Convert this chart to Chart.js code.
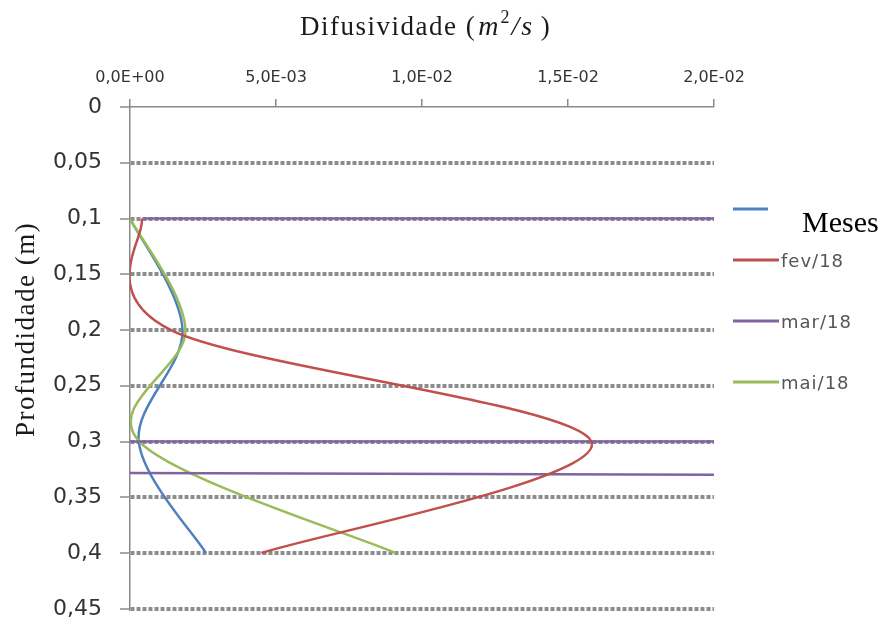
<!DOCTYPE html>
<html>
<head>
<meta charset="utf-8">
<script src="https://cdn.jsdelivr.net/npm/chart.js"></script>
<style>
  body { margin: 0; background: #fff; }
</style>
</head>
<body>
<canvas id="difusividade" width="888" height="640"></canvas>
<script>
// depth (m) of each reading
const depths = [0.1, 0.2, 0.3, 0.4];
// diffusivity (m2/s) per month
const mesesValues = [0, 0.0018, 0.0003, 0.0026];
const fevValues = [0.0004, 0.0014, 0.0158, 0.0045];
const maiValues = [0, 0.0019, 0.00032, 0.0091];
// mar/18 runs far off the axis, only the pieces crossing the plot are kept
const marDepths = [0.1, 0.1, null, 0.3, 0.3, null, 0.3275, 0.3305];
const marValues = [0.00045, 0.03, null, -0.01, 0.03, null, -0.01, 0.03];

const seriesLabels = ['Meses', 'fev/18', 'mar/18', 'mai/18'];
const seriesColors = ['#4f81bd', '#c0504d', '#8064a2', '#9bbb59'];
const xTickLabels = ['0,0E+00', '5,0E-03', '1,0E-02', '1,5E-02', '2,0E-02'];
const yTickLabels = ['0', '0,05', '0,1', '0,15', '0,2', '0,25', '0,3', '0,35', '0,4', '0,45'];
const yStep = 0.05;
const xStep = 0.005;

function toPoints(values, ys) {
    return values.map((v, i) => ({x: v, y: ys[i]}));
}

// excel style smoothing: catmull-rom control points (1/6 of neighbour span)
const excelSmooth = {
    id: 'excelSmooth',
    afterDatasetsUpdate(chart) {
        chart.getSortedVisibleDatasetMetas().forEach(meta => {
            const ds = chart.data.datasets[meta.index];
            if (!ds.smooth) return;
            const pts = meta.data;
            const n = pts.length;
            for (let i = 0; i < n; i++) {
                const p = pts[i];
                const prev = pts[Math.max(i - 1, 0)];
                const next = pts[Math.min(i + 1, n - 1)];
                const dx = (next.x - prev.x) / 6;
                const dy = (next.y - prev.y) / 6;
                p.cp1x = p.x - dx; p.cp1y = p.y - dy;
                p.cp2x = p.x + dx; p.cp2y = p.y + dy;
            }
            meta.dataset._pointsUpdated = true;
        });
    }
};

// titles + legend, drawn by hand so the fonts can be mixed
const textPlugin = {
    id: 'texts',
    afterDraw(chart) {
        const ctx = chart.ctx;
        ctx.save();
        ctx.fillStyle = '#1a1a1a';
        ctx.textBaseline = 'alphabetic';
        ctx.textAlign = 'left';

        // top title
        const parts = [
            ['Difusividade (', '27px "Liberation Serif"', 0, 1.5],
            ['m', 'italic 28px "Liberation Serif"', 0, 0],
            ['2', '18px "Liberation Serif"', -12, 0],
            ['/', 'italic 28px "Liberation Serif"', 0, 0],
            ['s', 'italic 28px "Liberation Serif"', 0, 0],
            [' )', '27px "Liberation Serif"', 0, 0]
        ];
        let x = 300;
        parts.forEach(p => {
            ctx.font = p[1];
            ctx.letterSpacing = p[3] + 'px';
            ctx.fillText(p[0], x, 35 + p[2]);
            x += ctx.measureText(p[0]).width + 2;
        });

        // side title
        ctx.save();
        ctx.translate(34, 437);
        ctx.rotate(-Math.PI / 2);
        ctx.font = '27px "Liberation Serif"';
        ctx.letterSpacing = '1.5px';
        ctx.fillText('Profundidade (m)', 0, 0);
        ctx.restore();

        // legend
        const rows = [209, 260, 321, 382];
        chart.data.datasets.forEach((ds, i) => {
            const y = rows[i];
            ctx.strokeStyle = ds.borderColor;
            ctx.lineWidth = 3;
            ctx.beginPath();
            ctx.moveTo(733, y);
            ctx.lineTo(i === 0 ? 768 : 779, y);
            ctx.stroke();
            if (i === 0) {
                ctx.fillStyle = '#000';
                ctx.font = '30px "Liberation Serif"';
                ctx.letterSpacing = '0px';
                ctx.fillText(ds.label, 802, y + 23);
            } else {
                ctx.fillStyle = '#555';
                ctx.font = '18px "DejaVu Sans"';
                ctx.letterSpacing = '1px';
                ctx.textBaseline = 'middle';
                ctx.fillText(ds.label, 781, y + 2);
                ctx.textBaseline = 'alphabetic';
            }
        });
        ctx.restore();
    }
};

const ctx = document.getElementById('difusividade');
const chart = new Chart(ctx, {
    type: 'line',
    data: {
        datasets: [{
            label: seriesLabels[0],
            data: toPoints(mesesValues, depths),
            borderColor: seriesColors[0],
            smooth: true,
            order: 3
        }, {
            label: seriesLabels[1],
            data: toPoints(fevValues, depths),
            borderColor: seriesColors[1],
            smooth: true,
            order: 0
        }, {
            label: seriesLabels[2],
            data: toPoints(marValues, marDepths),
            borderColor: seriesColors[2],
            tension: 0,
            order: 1
        }, {
            label: seriesLabels[3],
            data: toPoints(maiValues, depths),
            borderColor: seriesColors[3],
            smooth: true,
            order: 2
        }]
    },
    options: {
        responsive: false,
        animation: false,
        layout: {
            padding: {left: 0, right: 174, top: 0, bottom: 30}
        },
        elements: {
            line: {borderWidth: 2.5, tension: 0.5, fill: false},
            point: {radius: 0, hoverRadius: 0}
        },
        plugins: {
            legend: {display: false},
            tooltip: {enabled: false}
        },
        scales: {
            x: {
                type: 'linear',
                position: 'top',
                min: 0,
                max: 0.02,
                afterFit: s => { s.height = 107; },
                ticks: {
                    stepSize: xStep,
                    callback: v => xTickLabels[Math.round(v / xStep)],
                    font: {family: 'DejaVu Sans', size: 16},
                    color: '#333',
                    padding: 12,
                    maxRotation: 0
                },
                grid: {
                    drawOnChartArea: false,
                    tickLength: 8,
                    color: '#8a8a8a',
                    lineWidth: 1.5
                },
                border: {color: '#8a8a8a', width: 1.5}
            },
            y: {
                type: 'linear',
                reverse: true,
                min: 0,
                max: 0.45,
                afterFit: s => { s.width = 130; },
                ticks: {
                    stepSize: yStep,
                    autoSkip: false,
                    callback: v => yTickLabels[Math.round(v / yStep)],
                    font: {family: 'DejaVu Sans', size: 22},
                    color: '#333',
                    padding: 18
                },
                grid: {
                    color: c => (c.tick && c.tick.value === 0) ? 'rgba(0,0,0,0)' : '#8c8c8c',
                    lineWidth: 4,
                    tickLength: 10,
                    tickColor: '#8a8a8a',
                    tickWidth: 1.5
                },
                border: {color: '#8a8a8a', width: 1.5, dash: [4, 2]}
            }
        }
    },
    plugins: [excelSmooth, textPlugin]
});
</script>
</body>
</html>
